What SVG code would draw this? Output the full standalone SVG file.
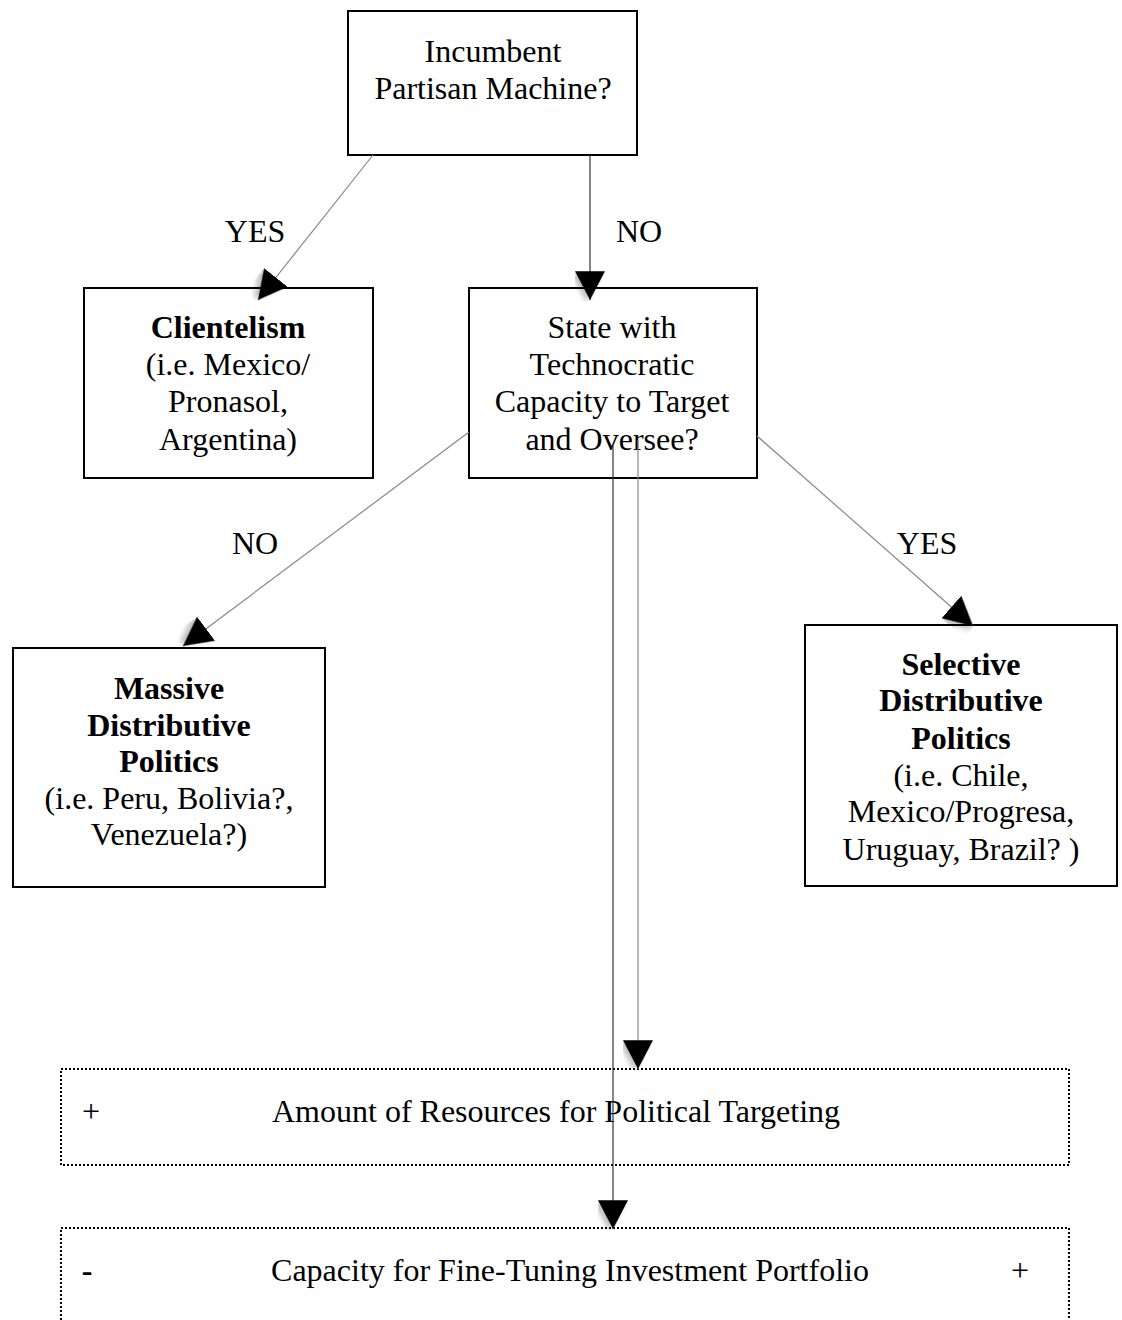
<svg xmlns="http://www.w3.org/2000/svg" width="1122" height="1320" viewBox="0 0 1122 1320">
<style>
.box{fill:#fff;stroke:#000;stroke-width:2}
.dot{fill:none;stroke:#000;stroke-width:2;stroke-dasharray:2 2}
text{font-family:"Liberation Serif","Times New Roman",serif;font-size:32px;fill:#000;text-anchor:middle}
.b{font-weight:bold}
.c{fill:none;stroke:#888;stroke-width:1.2}
.cd{fill:none;stroke:#333;stroke-width:1.2}
</style>
<defs>
<filter id="sh" x="-50%" y="-50%" width="200%" height="200%">
<feDropShadow dx="2" dy="3" stdDeviation="2" flood-color="#000" flood-opacity="0.25"/>
</filter>
<marker id="ah" markerUnits="userSpaceOnUse" markerWidth="30" markerHeight="30" viewBox="0 0 24 24" refX="23" refY="12" orient="auto">
<path d="M0,0 L23,12 L0,24 Z" fill="#000" filter="url(#sh)"/>
</marker>
</defs>
<g id="n-top">
<rect class="box" x="348" y="11" width="289" height="144"/>
<text x="493" y="62">Incumbent</text>
<text x="493" y="99">Partisan Machine?</text>
</g>
<g id="n-clientelism">
<rect class="box" x="84" y="288" width="289" height="190"/>
<text class="b" x="228" y="338">Clientelism</text>
<text x="228" y="375">(i.e. Mexico/</text>
<text x="228" y="412">Pronasol,</text>
<text x="228" y="450">Argentina)</text>
</g>
<g id="n-state">
<rect class="box" x="469" y="288" width="288" height="190"/>
<text x="612" y="338">State with</text>
<text x="612" y="375">Technocratic</text>
<text x="612" y="412">Capacity to Target</text>
<text x="612" y="450">and Oversee?</text>
</g>
<g id="n-massive">
<rect class="box" x="13" y="648" width="312" height="239"/>
<text class="b" x="169" y="699">Massive</text>
<text class="b" x="169" y="736">Distributive</text>
<text class="b" x="169" y="772">Politics</text>
<text x="169" y="809">(i.e. Peru, Bolivia?,</text>
<text x="169" y="845">Venezuela?)</text>
</g>
<g id="n-selective">
<rect class="box" x="805" y="625" width="312" height="261"/>
<text class="b" x="961" y="675">Selective</text>
<text class="b" x="961" y="711">Distributive</text>
<text class="b" x="961" y="749">Politics</text>
<text x="961" y="786">(i.e. Chile,</text>
<text x="961" y="822">Mexico/Progresa,</text>
<text x="961" y="860">Uruguay, Brazil? )</text>
</g>
<g id="n-resources">
<rect class="dot" x="61" y="1069" width="1008" height="96"/>
<text x="91" y="1122">+</text>
<text x="556" y="1122">Amount of Resources for Political Targeting</text>
</g>
<g id="n-capacity">
<rect class="dot" x="61" y="1228" width="1008" height="110"/>
<text class="b" x="87" y="1281">-</text>
<text x="570" y="1281">Capacity for Fine-Tuning Investment Portfolio</text>
<text x="1020" y="1281">+</text>
</g>
<g id="connectors">
<line class="c" x1="373" y1="155" x2="258" y2="300" marker-end="url(#ah)"/>
<line class="cd" x1="590" y1="155" x2="590" y2="300" marker-end="url(#ah)"/>
<line class="c" x1="469" y1="432" x2="183" y2="646" marker-end="url(#ah)"/>
<line class="c" x1="757" y1="436" x2="973" y2="626" marker-end="url(#ah)"/>
<line class="cd" x1="613" y1="445" x2="613" y2="1229" marker-end="url(#ah)"/>
<line class="c" x1="638" y1="440" x2="638" y2="1069" marker-end="url(#ah)"/>
<text x="255" y="242">YES</text>
<text x="639" y="242">NO</text>
<text x="255" y="554">NO</text>
<text x="927" y="554">YES</text>
</g>
</svg>
